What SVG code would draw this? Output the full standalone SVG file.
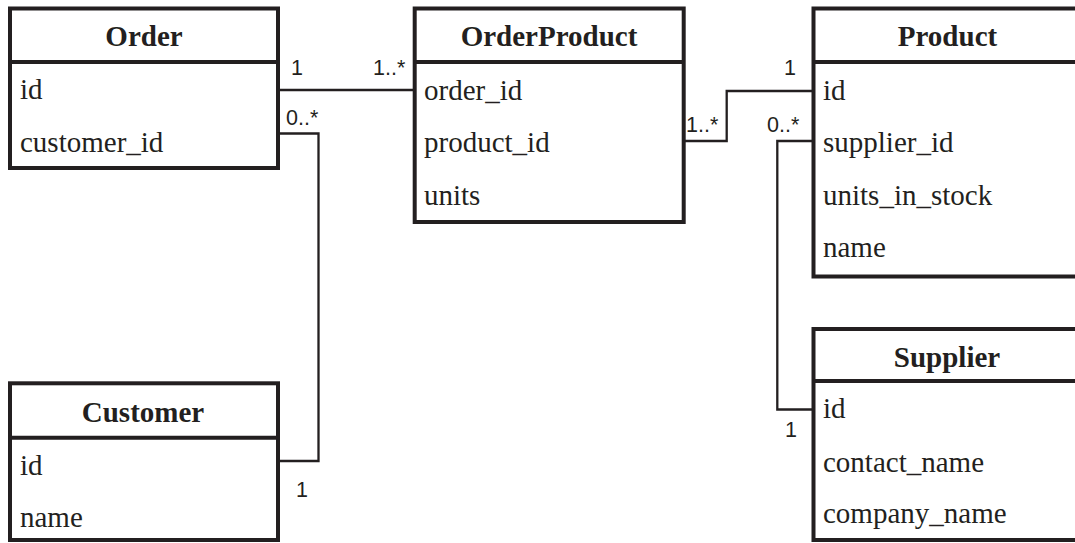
<svg xmlns="http://www.w3.org/2000/svg" width="1075" height="543" viewBox="0 0 1075 543">
  <style>
    .box { fill: #ffffff; stroke: #231f20; stroke-width: 4; }
    .sep { stroke: #231f20; stroke-width: 4; }
    .title { font-family: 'Times New Roman', 'Liberation Serif', Tinos, Times, serif; font-size: 29px; font-weight: bold; fill: #231f20; text-anchor: middle; }
    .attr { font-family: 'Times New Roman', 'Liberation Serif', Tinos, Times, serif; font-size: 29px; fill: #231f20; }
    .link { fill: none; stroke: #231f20; stroke-width: 2.3; }
    .mult { font-family: Arial, 'Liberation Sans', Arimo, Helvetica, sans-serif; font-size: 21.5px; fill: #231f20; }
  </style>
  <rect width="1075" height="543" fill="#ffffff"/>

  <!-- associations -->
  <g id="connectors">
    <path class="link" d="M278 90 H414.7"/>
    <path class="link" d="M278 133.5 H318.5 V461 H278"/>
    <path class="link" d="M683.7 141 H726.7 V91 H813.5"/>
    <path class="link" d="M813.5 141 H777.3 V409.5 H813.5"/>
    <text class="mult" x="291" y="75">1</text>
    <text class="mult" x="373" y="75">1..*</text>
    <text class="mult" x="286" y="125">0..*</text>
    <text class="mult" x="296" y="497">1</text>
    <text class="mult" x="686" y="132">1..*</text>
    <text class="mult" x="784" y="75">1</text>
    <text class="mult" x="767" y="132">0..*</text>
    <text class="mult" x="785" y="437">1</text>
  </g>

  <g id="order">
    <rect class="box" x="10" y="8.5" width="268" height="159.5"/>
    <line class="sep" x1="10" y1="62" x2="278" y2="62"/>
    <text class="title" x="144" y="46">Order</text>
    <text class="attr" x="20" y="99">id</text>
    <text class="attr" x="20" y="152">customer_id</text>
  </g>

  <g id="orderproduct">
    <rect class="box" x="414.7" y="8.5" width="269" height="213.5"/>
    <line class="sep" x1="414.7" y1="62" x2="683.7" y2="62"/>
    <text class="title" x="549" y="46">OrderProduct</text>
    <text class="attr" x="424" y="100">order_id</text>
    <text class="attr" x="424" y="152">product_id</text>
    <text class="attr" x="424" y="205">units</text>
  </g>

  <g id="product">
    <rect class="box" x="813.5" y="8.5" width="268.5" height="268"/>
    <line class="sep" x1="813.5" y1="62" x2="1082" y2="62"/>
    <text class="title" x="947.5" y="46">Product</text>
    <text class="attr" x="823" y="99.5">id</text>
    <text class="attr" x="823" y="152">supplier_id</text>
    <text class="attr" x="823" y="205">units_in_stock</text>
    <text class="attr" x="823" y="257">name</text>
  </g>

  <g id="supplier">
    <rect class="box" x="813.5" y="329" width="268.5" height="211"/>
    <line class="sep" x1="813.5" y1="381" x2="1082" y2="381"/>
    <text class="title" x="947" y="367">Supplier</text>
    <text class="attr" x="823" y="418">id</text>
    <text class="attr" x="823" y="472">contact_name</text>
    <text class="attr" x="823" y="523">company_name</text>
  </g>

  <g id="customer">
    <rect class="box" x="10" y="383.3" width="268" height="156.7"/>
    <line class="sep" x1="10" y1="437.7" x2="278" y2="437.7"/>
    <text class="title" x="143" y="422">Customer</text>
    <text class="attr" x="20" y="475">id</text>
    <text class="attr" x="20" y="527">name</text>
  </g>
</svg>
